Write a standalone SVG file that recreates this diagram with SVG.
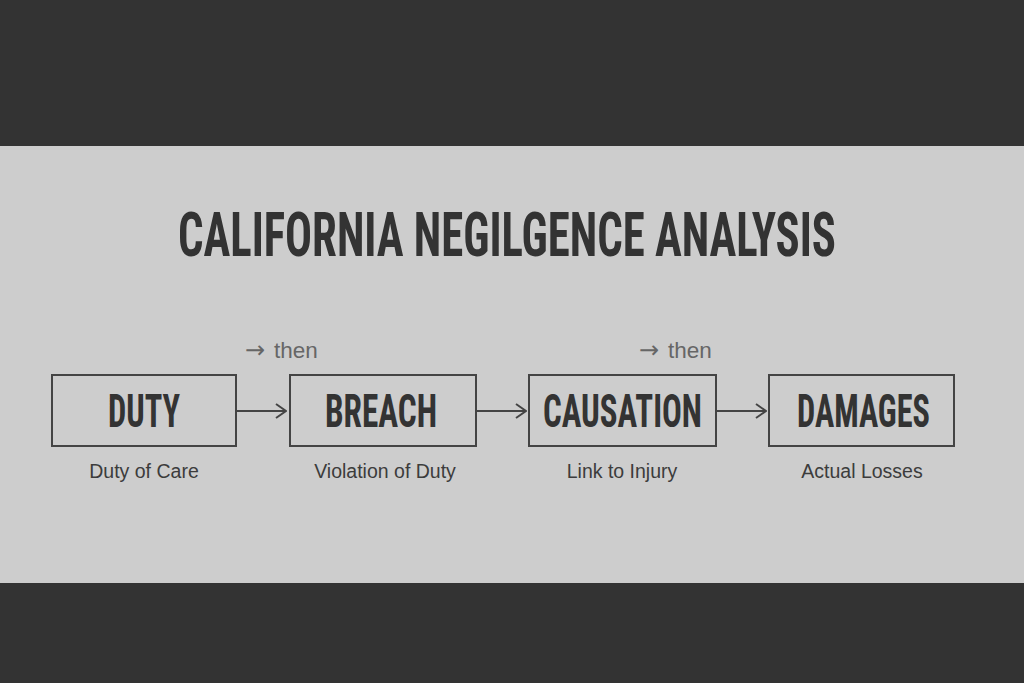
<svg xmlns="http://www.w3.org/2000/svg" width="1024" height="683" viewBox="0 0 1024 683">
<defs>
<style>
.title{font-family:"Liberation Sans Narrow","Roboto Condensed","Liberation Sans",Arial,sans-serif;font-weight:700;font-size:62px;fill:#333;}
.box{fill:none;stroke:#444;stroke-width:2;}
.lbl{font-family:"Liberation Sans Narrow","Roboto Condensed","Liberation Sans",Arial,sans-serif;font-weight:700;font-size:46px;fill:#333;}
.sub{font-family:"Liberation Sans",Arial,sans-serif;font-size:19.5px;fill:#3c3c3c;}
.then{font-family:"Liberation Sans",Arial,sans-serif;font-size:22.5px;fill:#666;}
.ar{font-family:"DejaVu Sans",sans-serif;font-size:24px;}
.conn{stroke:#444;stroke-width:2;fill:none;}
</style>
<marker id="arr" viewBox="0 0 12 16" refX="11" refY="8" markerWidth="12" markerHeight="16" markerUnits="userSpaceOnUse" orient="auto">
<path d="M1,1 L11,8 L1,15" fill="none" stroke="#444" stroke-width="2"/>
</marker>
</defs>
<rect x="0" y="0" width="1024" height="683" fill="#333"/>
<rect x="0" y="146" width="1024" height="437" fill="#cdcdcd"/>
<text class="title" x="507" y="256" text-anchor="middle" textLength="658" lengthAdjust="spacingAndGlyphs">CALIFORNIA NEGILGENCE ANALYSIS</text>
<g id="connectors">
<line class="conn" x1="237" y1="411" x2="286" y2="411" marker-end="url(#arr)"/>
<line class="conn" x1="477" y1="411" x2="526" y2="411" marker-end="url(#arr)"/>
<line class="conn" x1="717" y1="411" x2="766" y2="411" marker-end="url(#arr)"/>
<text class="then" x="245" y="358"><tspan class="ar">→</tspan><tspan x="274">then</tspan></text>
<text class="then" x="639" y="358"><tspan class="ar">→</tspan><tspan x="668">then</tspan></text>
</g>
<g id="duty">
<rect class="box" x="52" y="375" width="184" height="71"/>
<text class="lbl" x="144" y="427" text-anchor="middle" textLength="72" lengthAdjust="spacingAndGlyphs">DUTY</text>
<text class="sub" x="144" y="478" text-anchor="middle">Duty of Care</text>
</g>
<g id="breach">
<rect class="box" x="290" y="375" width="186" height="71"/>
<text class="lbl" x="381" y="427" text-anchor="middle" textLength="112" lengthAdjust="spacingAndGlyphs">BREACH</text>
<text class="sub" x="385" y="478" text-anchor="middle">Violation of Duty</text>
</g>
<g id="causation">
<rect class="box" x="529" y="375" width="187" height="71"/>
<text class="lbl" x="622.5" y="427" text-anchor="middle" textLength="159" lengthAdjust="spacingAndGlyphs">CAUSATION</text>
<text class="sub" x="622" y="478" text-anchor="middle">Link to Injury</text>
</g>
<g id="damages">
<rect class="box" x="769" y="375" width="185" height="71"/>
<text class="lbl" x="863.5" y="427" text-anchor="middle" textLength="133" lengthAdjust="spacingAndGlyphs">DAMAGES</text>
<text class="sub" x="862" y="478" text-anchor="middle">Actual Losses</text>
</g>
</svg>
